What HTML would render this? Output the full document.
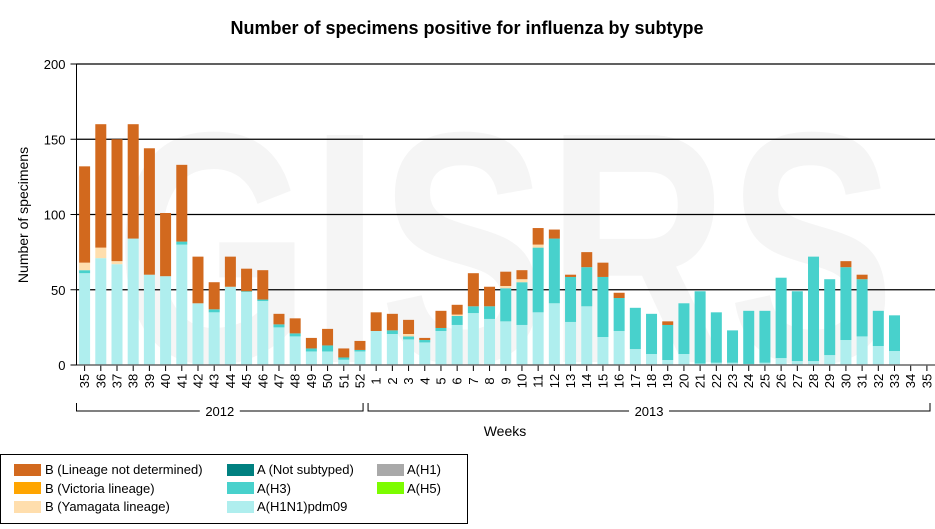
<!DOCTYPE html>
<html><head><meta charset="utf-8"><style>
html,body{margin:0;padding:0;background:#fff;}
svg{display:block;font-family:"Liberation Sans",Arial,sans-serif;}
</style></head><body>
<svg id="chart" width="935" height="529" viewBox="0 0 935 529">
<text x="467" y="34" text-anchor="middle" font-size="18" font-weight="bold">Number of specimens positive for influenza by subtype</text>
<text x="505" y="362" text-anchor="middle" font-size="330" font-weight="bold" fill="#f5f5f5" textLength="780" lengthAdjust="spacingAndGlyphs">GISRS</text>
<g id="grid"></g>
<g id="bars"></g>
<g id="axes"></g>
<text transform="translate(28,215) rotate(-90)" text-anchor="middle" font-size="14">Number of specimens</text>
<text x="505" y="436" text-anchor="middle" font-size="14">Weeks</text>
<g>
<rect x="0.5" y="454.5" width="467" height="69" fill="#fff" stroke="#000"/>
<rect x="14" y="464" width="27" height="12" fill="#D2691E"/>
<text x="45" y="474" font-size="13">B (Lineage not determined)</text>
<rect x="14" y="482" width="27" height="12" fill="#FFA500"/>
<text x="45" y="493" font-size="13">B (Victoria lineage)</text>
<rect x="14" y="501" width="27" height="12" fill="#FFDEAD"/>
<text x="45" y="511" font-size="13">B (Yamagata lineage)</text>
<rect x="227" y="464" width="27" height="12" fill="#008080"/>
<text x="257" y="474" font-size="13">A (Not subtyped)</text>
<rect x="227" y="482" width="27" height="12" fill="#48D1CC"/>
<text x="257" y="493" font-size="13">A(H3)</text>
<rect x="227" y="501" width="27" height="12" fill="#AFEEEE"/>
<text x="257" y="511" font-size="13">A(H1N1)pdm09</text>
<rect x="377" y="464" width="27" height="12" fill="#A9A9A9"/>
<text x="407" y="474" font-size="13">A(H1)</text>
<rect x="377" y="482" width="27" height="12" fill="#7CFC00"/>
<text x="407" y="493" font-size="13">A(H5)</text>
</g>
</svg>
<script>
const weeks = [35,36,37,38,39,40,41,42,43,44,45,46,47,48,49,50,51,52,1,2,3,4,5,6,7,8,9,10,11,12,13,14,15,16,17,18,19,20,21,22,23,24,25,26,27,28,29,30,31,32,33,34,35];
const pdm09 = [61,71,67,84,60,59,80,41,35,52,48.5,42.5,25,19,9,9,3.5,9,22.6,20.6,17,15,22.6,26.6,34.5,30.6,29,26.6,35,41,28.6,39,18.6,22.6,10.6,7.3,3.3,7.3,1,1.5,1.5,0.7,1.5,4.6,2.6,2.6,6.6,16.6,19,12.6,9.3,0,0];
const h3 = [2,0,0,0,0,0,2,0,2,0,0.5,1,2,2,2,4,1.5,1,0,2.4,2,1.6,2,6,4.5,8.4,22,28.4,43,43,29.9,26,39.9,21.9,27.4,26.7,23.3,33.7,48,33.5,21.5,35.3,34.5,53.4,46.4,69.4,50.4,48.4,38,23.4,23.7,0,0];
const yamagata = [5,7,2,0,0,0,0,0,0,0,0,0,0,0,0,0,0,0,0,0,1.6,0,0,0.9,0,0,1.5,2,2,0,0,0,0,0,0,0,0,0,0,0,0,0,0,0,0,0,0,0,0,0,0,0,0];
const victoria = new Array(53).fill(0);
const bNotDetermined = [64,82,81,76,84,42,51,31,18,20,15,19.5,7,10,7,11,6,6,12.4,11,9.4,1.4,11.4,6.5,22,13,9.5,6,11,6,1.5,10,9.5,3.5,0,0,2.4,0,0,0,0,0,0,0,0,0,0,4,3,0,0,0,0];
const yTicks = [0,50,100,150,200];
const years = [{label:'2012',from:0,to:17},{label:'2013',from:18,to:52}];

const NS='http://www.w3.org/2000/svg';
const L=76.5,R=935,T=64,B=365,ymax=200;
const bw=(R-L)/weeks.length;
const y=v=>B-v/ymax*(B-T);
const xc=i=>L+bw*(i+0.5);
function mk(tag,attrs,parent){const e=document.createElementNS(NS,tag);for(const k in attrs)e.setAttribute(k,attrs[k]);parent.appendChild(e);return e;}
const grid=document.getElementById('grid'),bars=document.getElementById('bars'),axes=document.getElementById('axes');
yTicks.forEach(t=>{
  if(t>0){const g=mk('line',{x1:L,x2:R,y1:y(t),y2:y(t),stroke:'#000','stroke-width':1.2},grid);
  
  }
  const tk=mk('line',{x1:L-6,x2:L,y1:y(t),y2:y(t),stroke:'#000'},axes);
  
  
  const tl=mk('text',{x:L-11,y:y(t)+5,'text-anchor':'end','font-size':13},axes);tl.textContent=t;
  
  
});
const series=[[pdm09,'#AFEEEE','pdm09'],[h3,'#48D1CC','h3'],[yamagata,'#FFDEAD','yamagata'],[victoria,'#FFA500','victoria'],[bNotDetermined,'#D2691E','b-nd']];
weeks.forEach((w,i)=>{
  let acc=0;
  series.forEach(([arr,col,nm])=>{
    const v=arr[i];if(v>0){
      const r=mk('rect',{x:xc(i)-5.5,width:11,y:y(acc+v),height:y(acc)-y(acc+v),fill:col},bars);
      
      
    }
    acc+=v;
  });
  const tk=mk('line',{x1:xc(i),x2:xc(i),y1:B,y2:B+6,stroke:'#000'},axes);
  
  
  const tl=mk('text',{transform:`translate(${xc(i)+4.5},${381}) rotate(-90)`,'text-anchor':'middle','font-size':13},axes);tl.textContent=w;
  
  
});
const base=mk('line',{x1:L,x2:R,y1:B,y2:B,stroke:'#666','stroke-width':1.5},axes);


const yl=mk('line',{x1:L,x2:L,y1:T,y2:B,stroke:'#000'},axes);


years.forEach(g=>{
  const x1=L+bw*g.from, x2=Math.min(L+bw*(g.to+1),R)-5, xm=(x1+x2)/2;
  const p=mk('path',{d:`M${x1},403 V411 H${x2} V403`,fill:'none',stroke:'#000'},axes);
  
  
  const bg=mk('rect',{x:xm-20,y:404,width:40,height:14,fill:'#fff'},axes);
  
  
  const t=mk('text',{x:xm,y:416,'text-anchor':'middle','font-size':13},axes);t.textContent=g.label;
  
  
});
</script>
</body></html>
